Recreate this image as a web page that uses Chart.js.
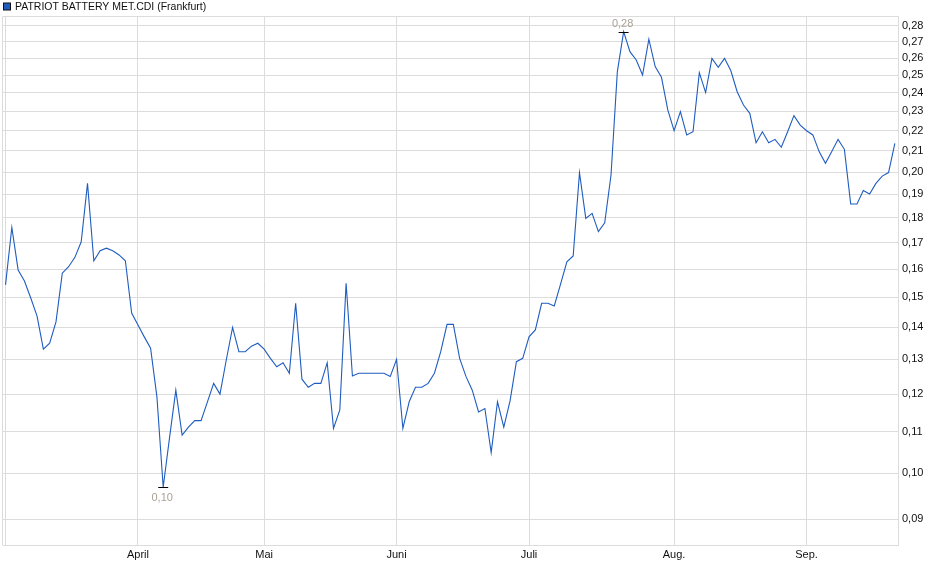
<!DOCTYPE html>
<html>
<head>
<meta charset="utf-8">
<script src="https://cdn.jsdelivr.net/npm/chart.js@4/dist/chart.umd.min.js"></script>
<style>
  html, body { margin: 0; padding: 0; background: #fff; }
  #wrap { width: 940px; height: 579px; }
</style>
</head>
<body>
<div id="wrap"><canvas id="chart"></canvas></div>
<script>
// Series title
const seriesName = 'PATRIOT BATTERY MET.CDI (Frankfurt)';

// Month labels and the trading-day index where each month starts
const monthLabels = ['', 'April', 'Mai', 'Juni', 'Juli', 'Aug.', 'Sep.'];
const monthStarts = [0, 21, 41, 62, 83, 106, 127];

// Y axis ticks (log scale)
const yTicks = [0.09, 0.10, 0.11, 0.12, 0.13, 0.14, 0.15, 0.16, 0.17, 0.18, 0.19,
                0.20, 0.21, 0.22, 0.23, 0.24, 0.25, 0.26, 0.27, 0.28];

// Daily closing prices (EUR), March to mid-September
const prices = [
  0.1543, 0.1761, 0.1597, 0.1557, 0.1497, 0.1436, 0.1331, 0.1349, 0.1417, 0.1585,
  0.1609, 0.1644, 0.1704, 0.1949, 0.1631, 0.1669, 0.1679, 0.1669, 0.1653, 0.1631,
  0.1446, 0.1407, 0.1369, 0.1334, 0.1193, 0.0969, 0.1085, 0.1211, 0.1092, 0.1112,
  0.1129, 0.1129, 0.1178, 0.1230, 0.1200, 0.1298, 0.1399, 0.1323, 0.1323, 0.1340,
  0.1349, 0.1331, 0.1303, 0.1278, 0.1290, 0.1259, 0.1479, 0.1242, 0.1219, 0.1230,
  0.1230, 0.1290, 0.1109, 0.1157, 0.1549, 0.1251, 0.1259, 0.1259, 0.1259, 0.1259,
  0.1259, 0.1250, 0.1300, 0.1109, 0.1179, 0.1219, 0.1219, 0.1230, 0.1259, 0.1323,
  0.1409, 0.1409, 0.1303, 0.1250, 0.1211, 0.1152, 0.1161, 0.1049, 0.1179, 0.1112,
  0.1182, 0.1293, 0.1303, 0.1369, 0.1391, 0.1479, 0.1479, 0.1470, 0.1546, 0.1627,
  0.1649, 0.1998, 0.1798, 0.1819, 0.1744, 0.1780, 0.1987, 0.2519, 0.2764, 0.2639,
  0.2589, 0.2501, 0.2716, 0.2550, 0.2488, 0.2308, 0.2200, 0.2299, 0.2179, 0.2195,
  0.2515, 0.2402, 0.2599, 0.2546, 0.2599, 0.2526, 0.2407, 0.2334, 0.2290, 0.2140,
  0.2195, 0.2140, 0.2157, 0.2118, 0.2195, 0.2278, 0.2229, 0.2200, 0.2179, 0.2097,
  0.2041, 0.2097, 0.2157, 0.2108, 0.1859, 0.1859, 0.1917, 0.1902, 0.1949, 0.1982,
  0.1998, 0.2137
];

const fmt = v => v.toFixed(2).replace('.', ',');
const FONT = 'Arial, "Liberation Sans", sans-serif';

// Header: small legend box + title, plus top/left frame lines
const headerPlugin = {
  id: 'header',
  beforeDatasetsDraw(chart) {
    const a = chart.chartArea;
    const ctx = chart.ctx;
    const l = Math.round(a.left) - 0.5, t = Math.round(a.top) + 0.5;
    ctx.save();
    ctx.strokeStyle = '#dcdcdc';
    ctx.lineWidth = 1;
    ctx.beginPath();
    ctx.moveTo(l, a.bottom);
    ctx.lineTo(l, t);
    ctx.lineTo(a.right, t);
    ctx.stroke();
    ctx.restore();
  },
  afterDraw(chart) {
    const ctx = chart.ctx;
    ctx.save();
    ctx.fillStyle = '#1f5cc0';
    ctx.fillRect(3.5, 3, 7, 7);
    ctx.strokeStyle = '#111';
    ctx.lineWidth = 1;
    ctx.strokeRect(3.5, 3, 7, 7);
    ctx.fillStyle = '#111';
    ctx.font = '10.5px ' + FONT;
    ctx.textBaseline = 'middle';
    ctx.textAlign = 'left';
    ctx.fillText(seriesName, 15, 7);
    ctx.restore();
  }
};

// Min / max markers
const extremaPlugin = {
  id: 'extrema',
  afterDatasetsDraw(chart) {
    const ctx = chart.ctx;
    const xs = chart.scales.x, ys = chart.scales.y;
    let iMin = 0, iMax = 0;
    prices.forEach((v, i) => {
      if (v < prices[iMin]) iMin = i;
      if (v > prices[iMax]) iMax = i;
    });
    ctx.save();
    ctx.strokeStyle = '#000';
    ctx.lineWidth = 1;
    ctx.fillStyle = '#aaa196';
    ctx.font = '11px ' + FONT;
    ctx.textAlign = 'center';
    ctx.textBaseline = 'middle';
    [[iMax, -9], [iMin, 10]].forEach(([i, off]) => {
      const px = xs.getPixelForValue(i);
      const py = Math.round(ys.getPixelForValue(prices[i])) + 0.5;
      ctx.beginPath();
      ctx.moveTo(px - 5, py);
      ctx.lineTo(px + 5, py);
      ctx.stroke();
      ctx.fillText(fmt(prices[i]), px - 1, py + off);
    });
    ctx.restore();
  }
};

const ctx = document.getElementById('chart').getContext('2d');
new Chart(ctx, {
  type: 'line',
  data: {
    datasets: [{
      label: seriesName,
      data: prices.map((v, i) => ({ x: i, y: v })),
      borderColor: '#1f5cc0',
      borderWidth: 1.1,
      pointRadius: 0,
      tension: 0,
      fill: false
    }]
  },
  options: {
    responsive: true,
    maintainAspectRatio: false,
    animation: false,
    layout: { padding: { top: 16, left: 3, right: 0, bottom: 0 } },
    plugins: {
      legend: { display: false },
      title: { display: false },
      tooltip: { enabled: false }
    },
    scales: {
      x: {
        type: 'linear',
        min: -0.4,
        max: 141.5,
        afterBuildTicks(scale) {
          scale.ticks = monthStarts.map(v => ({ value: v }));
        },
        afterFit(scale) { scale.height = 33.5; },
        ticks: {
          autoSkip: false,
          maxRotation: 0,
          padding: 3,
          color: '#111',
          font: { family: FONT, size: 11 },
          callback: (v) => monthLabels[monthStarts.indexOf(v)]
        },
        grid: { color: '#dcdcdc', drawTicks: false },
        border: { color: '#dcdcdc' }
      },
      y: {
        type: 'logarithmic',
        position: 'right',
        min: 0.0847,
        max: 0.2865,
        afterBuildTicks(scale) {
          scale.ticks = yTicks.map(v => ({ value: v }));
        },
        afterFit(scale) { scale.width = 42; },
        ticks: {
          autoSkip: false,
          padding: 4,
          color: '#111',
          font: { family: FONT, size: 11 },
          callback: (v) => fmt(v)
        },
        grid: { color: '#dcdcdc', drawTicks: false },
        border: { color: '#dcdcdc' }
      }
    }
  },
  plugins: [headerPlugin, extremaPlugin]
});
</script>
</body>
</html>
